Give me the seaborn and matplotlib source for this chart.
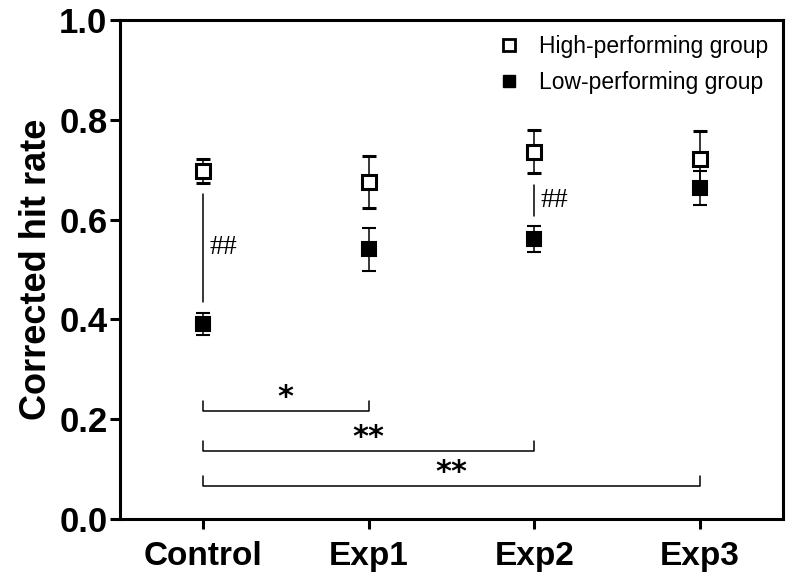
import numpy as np
import seaborn as sns
from matplotlib import pyplot as plt
from matplotlib.lines import Line2D

groups = ['Control', 'Exp1', 'Exp2', 'Exp3']
high_mean = [0.698, 0.675, 0.736, 0.722]
high_err = [0.024, 0.052, 0.043, 0.055]
low_mean = [0.391, 0.540, 0.561, 0.664]
low_err = [0.022, 0.043, 0.027, 0.034]

# (from, to, bracket height, label)
comparisons = [(0, 1, 0.216, '*'), (0, 2, 0.136, '**'), (0, 3, 0.066, '**')]
# (group index, line bottom, line top, label)
within = [(0, 0.435, 0.652, '##'), (2, 0.607, 0.669, '##')]

sns.set_style('ticks')
plt.rcParams['font.family'] = ['Liberation Sans', 'DejaVu Sans']
plt.rcParams['text.color'] = 'black'
plt.rcParams['axes.labelcolor'] = 'black'
plt.rcParams['xtick.color'] = 'black'
plt.rcParams['ytick.color'] = 'black'

fig, ax = plt.subplots(figsize=(7.94, 5.87), dpi=100)
x = np.arange(len(groups))

ax.errorbar(x, high_mean, yerr=high_err, fmt='s', color='black', ms=10,
            mfc='white', mec='black', mew=2.2, elinewidth=1.1, capsize=5,
            capthick=1.1, zorder=3)
ax.errorbar(x, low_mean, yerr=low_err, fmt='s', color='black', ms=10,
            mfc='black', mec='black', mew=1.5, elinewidth=1.1, capsize=5,
            capthick=1.1, zorder=4)

for i, y0, y1, lab in within:
    ax.plot([i, i], [y0, y1], color='black', lw=1.1)
    ax.text(i + 0.04, (y0 + y1) / 2, lab, fontsize=20, va='center', ha='left',
            family=['Liberation Serif', 'DejaVu Serif'])

for a, b, h, lab in comparisons:
    ax.plot([a, a, b, b], [h + 0.02, h, h, h + 0.02], color='black', lw=1.1)
    ax.text((a + b) / 2, h + 0.027, lab, fontsize=22, fontweight='bold',
            ha='center', va='center', family=['DejaVu Sans'])

ax.set_xlim(-0.5, 3.5)
ax.set_ylim(0, 1.0)
ax.set_xticks(x)
ax.set_xticklabels(groups)
ax.set_yticks([0.0, 0.2, 0.4, 0.6, 0.8, 1.0])
ax.set_yticklabels(['0.0', '0.2', '0.4', '0.6', '0.8', '1.0'])
ax.set_ylabel('Corrected hit rate', fontsize=26, fontweight='bold', labelpad=4)

for s in ax.spines.values():
    s.set_linewidth(2.2)
    s.set_color('black')
ax.tick_params(axis='both', width=2.2, length=7, color='black')
ax.tick_params(axis='y', labelsize=25, pad=2)
ax.tick_params(axis='x', labelsize=24, pad=9)
for lbl in ax.get_xticklabels() + ax.get_yticklabels():
    lbl.set_fontweight('bold')

handles = [
    Line2D([], [], marker='s', ls='none', color='black', mfc='white', mew=2, ms=8),
    Line2D([], [], marker='s', ls='none', color='black', mfc='black', ms=8),
]
ax.legend(handles, ['High-performing group', 'Low-performing group'],
          loc='upper right', bbox_to_anchor=(1.004, 1.004), frameon=False,
          fontsize=16.5, handletextpad=0.55, labelspacing=0.55,
          borderaxespad=0.35, handlelength=1.5)

fig.subplots_adjust(left=0.151, right=0.986, top=0.966, bottom=0.116)
fig.savefig('out.png', dpi=100)
